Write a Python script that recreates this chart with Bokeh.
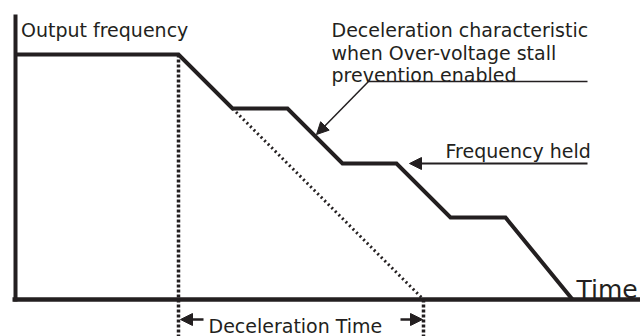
from bokeh.plotting import figure
from bokeh.models import Range1d, Arrow, NormalHead
from bokeh.core.properties import value
from bokeh.embed import file_html
from bokeh.resources import INLINE

# ---- data (arbitrary units: time / output frequency) ----
time = [0, 163, 217, 272, 327, 381, 435, 490, 557]
freq = [245, 245, 191, 191, 136, 136, 82, 82, 0]

ideal_time = [217, 408]          # deceleration without stall prevention
ideal_freq = [191, 0]

decel_start = 163
decel_end = 408

axis_time = [-3, 625]
axis_freq = [-2, 285]

label_texts = ["Output frequency",
               "Deceleration characteristic",
               "when Over-voltage stall",
               "prevention enabled",
               "Frequency held",
               "Deceleration Time"]
label_t = [5.5, 316, 316, 316, 430, 193]
label_f = [270, 269.5, 247, 224.5, 149, -26.5]

time_label = "Time"
time_label_t = 561
time_label_f = 10

# leader lines: (start_t, start_f, end_t, end_f)
leader1_line_t = [353, 572]
leader1_line_f = [218, 218]
leader1_arrow = (353, 218, 301, 165)
leader2_arrow = (572, 136, 394, 136)
span_arrow_left = (188, -20, 165, -20)
span_arrow_right = (385, -20, 407, -20)

INK = "#231f20"
FONT = "DejaVu Sans"

p = figure(width=640, height=336, output_backend="svg", toolbar_location=None,
           x_range=Range1d(-15, 625), y_range=Range1d(-37, 299),
           min_border=0, x_axis_type=None, y_axis_type=None)
p.grid.visible = False
p.outline_line_color = None
p.background_fill_color = "white"
p.border_fill_color = "white"

# axes
p.line(x=[0, 0], y=axis_freq, line_color=INK, line_width=4, line_cap="butt")
p.line(x=axis_time, y=[0, 0], line_color=INK, line_width=4.5, line_cap="butt")

# dotted markers
p.line(x=[decel_start, decel_start], y=[freq[0], -40], line_color=INK,
       line_width=3.5, line_dash="3 2")
p.line(x=[decel_end, decel_end], y=[0, -40], line_color=INK,
       line_width=3.5, line_dash="3 2")
p.line(x=ideal_time, y=ideal_freq, line_color=INK, line_width=3, line_dash="2 3")

# main characteristic
p.line(x=time, y=freq, line_color=INK, line_width=4, line_join="miter")

# leaders
p.line(x=leader1_line_t, y=leader1_line_f, line_color=INK, line_width=1.5)


def add_arrow(a, lw, size):
    p.add_layout(Arrow(end=NormalHead(size=size, fill_color=INK, line_color=INK, line_width=1),
                       x_start=a[0], y_start=a[1], x_end=a[2], y_end=a[3],
                       line_color=INK, line_width=lw))


add_arrow(leader1_arrow, 1.5, 12)
add_arrow(leader2_arrow, 2, 12)
add_arrow(span_arrow_left, 2.5, 12)
add_arrow(span_arrow_right, 2.5, 12)

# texts
p.text(x=label_t, y=label_f, text=label_texts, text_font=value(FONT),
       text_font_size="19px", text_color=INK, text_baseline="alphabetic",
       text_align="left")
p.text(x=[time_label_t], y=[time_label_f], text=[time_label], text_font=value(FONT),
       text_font_size="25px", text_color=INK, text_baseline="alphabetic",
       text_align="left")

open("out.html", "w").write(file_html(p, INLINE))
